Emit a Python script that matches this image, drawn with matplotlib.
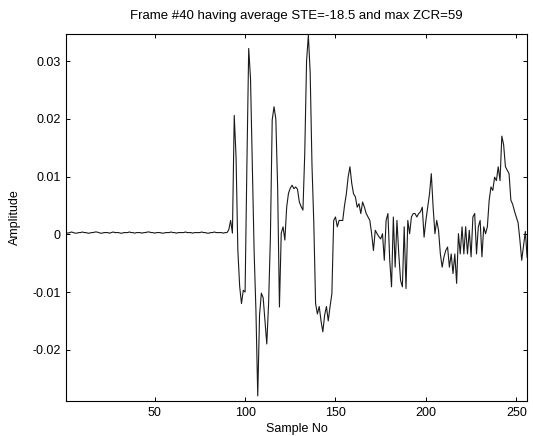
import numpy as np
import matplotlib
matplotlib.use("Agg")
import matplotlib.pyplot as plt
from matplotlib.ticker import FuncFormatter

plt.rcParams["font.family"] = ["Liberation Sans", "DejaVu Sans"]
plt.rcParams["axes.unicode_minus"] = False

# amplitudes in units of 1e-4
quiet = [3, 2, 3, 4, 3, 2, 2, 3, 3, 4, 3, 3, 2, 2, 3, 3, 4, 4, 3, 2,
         2, 3, 3, 3, 2, 3, 4, 3, 3, 3, 2, 2, 3, 3, 3, 4, 3, 3, 2, 3,
         3, 3, 2, 3, 3, 4, 4, 3, 3, 2, 3, 3, 3, 2, 2, 3, 3, 3, 4, 3,
         3, 2, 3, 3, 3, 3, 4, 3, 3, 3, 2, 3, 3, 3, 3, 4, 3, 3, 2, 2,
         3, 3, 4, 3, 3, 3, 3, 2, 3, 3]                          # samples 1-90
onset = [8, 24, 2, 206, 134, -28, -90, -120, -97, -100,
         120, 322, 270, 120, -30, -132, -280, -140, -102, -110,
         -150, -190, -120, -5, 198, 221, 200, 82, -126, 2,
         13, -10, 47, 71, 80, 85, 79, 82, 78, 56,
         48, 42, 140, 300, 345, 280, 120, 20, -120, -138,
         -125, -150, -169, -140, -125, -150, -125, -103, 24, 30]  # samples 91-150
tail = [13, 24, 24, 24, 50, 70, 99, 117, 88, 70,
        65, 47, 53, 36, 56, 47, 36, 30, 24, 1,
        -28, 7, 1, -4, -8, 1, -45, 24, 36, -45,
        -91, 30, -57, 24, -34, -80, -91, 13, -94, 24,
        1, 30, 36, 36, 30, 36, 39, 47, -5, 24,
        47, 70, 105, 47, 1, 24, 7, -34, -57, -39,
        -28, -22, -57, -34, -68, -34, -85, 1, -34, 13,
        -34, 13, -34, 7, -39, 30, 36, -34, 13, 24,
        -39, 13, 1, 13, 59, 82, 76, 99, 93, 117,
        93, 170, 155, 117, 111, 105, 59, 52, 40, 30,
        20, -10, -45, -20, 5, -40]                            # samples 151-256

amp = np.array(quiet + onset + tail) * 1e-4
n = np.arange(1, len(amp) + 1)

fig = plt.figure(figsize=(5.33, 4.36), dpi=100)
ax = fig.add_axes([0.124, 0.080, 0.865, 0.842])
ax.plot(n, amp, color="#1a1a1a", lw=0.8)

ax.set_xlim(1, 256)
ax.set_ylim(-0.0289, 0.0347)
ax.set_xticks([50, 100, 150, 200, 250])
ax.set_yticks([-0.02, -0.01, 0, 0.01, 0.02, 0.03])
ax.yaxis.set_major_formatter(FuncFormatter(lambda v, p: f"{v:g}"))
ax.tick_params(direction="in", top=True, right=True, length=3, width=0.7,
               labelsize=9, pad=4)
for sp in ax.spines.values():
    sp.set_linewidth(0.8)

ax.set_title("Frame #40 having average STE=-18.5 and max ZCR=59", fontsize=9.5, pad=11)
ax.set_xlabel("Sample No", fontsize=9, labelpad=3)
ax.set_ylabel("Amplitude", fontsize=9, labelpad=8)

fig.savefig("out.png", dpi=100)
